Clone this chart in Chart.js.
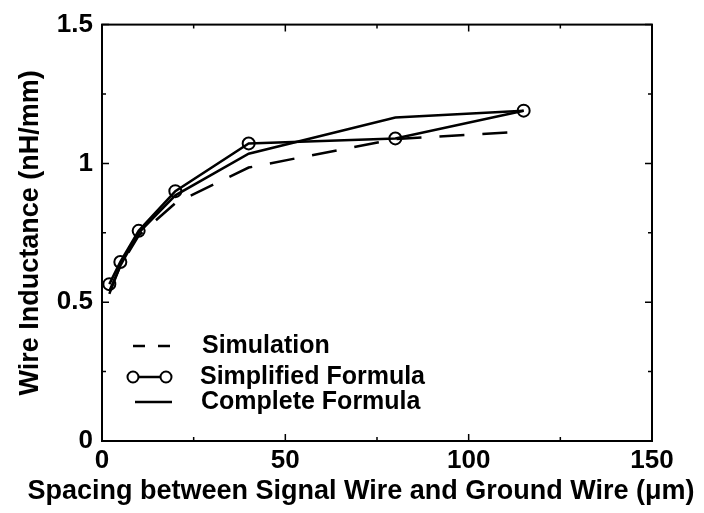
<!DOCTYPE html>
<html>
<head>
<meta charset="utf-8">
<script src="https://cdn.jsdelivr.net/npm/chart.js@4.4.1/dist/chart.umd.min.js"></script>
<style>
  html, body { margin: 0; padding: 0; background: #fff; }
  #wrap { width: 704px; height: 513px; }
</style>
</head>
<body>
<div id="wrap"><canvas id="inductanceChart"></canvas></div>
<script>
// spacing in um
var spacing = [2, 5, 10, 20, 40, 80, 115];
var simulation = [0.54, 0.63, 0.74, 0.857, 0.985, 1.088, 1.115];
var simplified = [0.565, 0.645, 0.757, 0.90, 1.072, 1.09, 1.19];
var complete = [0.53, 0.632, 0.75, 0.885, 1.035, 1.165, 1.19];
var seriesNames = ['Simulation', 'Simplified Formula', 'Complete Formula'];
var xTicks = [0, 50, 100, 150];
var yTicks = [0, 0.5, 1, 1.5];
var xTitle = 'Spacing between Signal Wire and Ground Wire (\u03bcm)';

var FONT = "'Liberation Sans', Arial, Helvetica, sans-serif";

function pts(ys) {
    return spacing.map(function(x, i) { return { x: x, y: ys[i] }; });
}

// box around plot + inward ticks (major and minor)
var frameTicks = {
    id: 'frameTicks',
    afterDatasetsDraw: function(chart) {
        var ctx = chart.ctx, a = chart.chartArea;
        var sx = chart.scales.x, sy = chart.scales.y;
        ctx.save();
        ctx.strokeStyle = '#000';
        ctx.lineWidth = 2;
        ctx.strokeRect(a.left, a.top, a.right - a.left, a.bottom - a.top);
        ctx.lineWidth = 1.5;
        ctx.beginPath();
        for (var v = 0; v <= 150; v += 25) {
            var len = (v % 50 === 0) ? 7 : 4;
            var px = sx.getPixelForValue(v);
            ctx.moveTo(px, a.bottom); ctx.lineTo(px, a.bottom - len);
            ctx.moveTo(px, a.top); ctx.lineTo(px, a.top + len);
        }
        for (var w = 0; w <= 1.5001; w += 0.25) {
            var l2 = (Math.abs(w * 2 - Math.round(w * 2)) < 1e-6) ? 7 : 4;
            var py = sy.getPixelForValue(w);
            ctx.moveTo(a.left, py); ctx.lineTo(a.left + l2, py);
            ctx.moveTo(a.right, py); ctx.lineTo(a.right - l2, py);
        }
        ctx.stroke();
        ctx.restore();
    }
};

// legend inside the plot (lower left) and the x title, which sits left of the axis centre
var innerLegend = {
    id: 'innerLegend',
    afterDraw: function(chart) {
        var ctx = chart.ctx;
        var rows = [346, 377, 402];
        ctx.save();
        ctx.strokeStyle = '#000';
        ctx.fillStyle = '#000';
        ctx.lineWidth = 2.5;
        ctx.font = 'bold 25px ' + FONT;
        ctx.textBaseline = 'middle';
        // dashed sample
        ctx.setLineDash([12, 13]);
        ctx.beginPath(); ctx.moveTo(133, rows[0]); ctx.lineTo(172, rows[0]); ctx.stroke();
        ctx.setLineDash([]);
        // line + circles sample
        ctx.beginPath(); ctx.moveTo(133, rows[1]); ctx.lineTo(166, rows[1]); ctx.stroke();
        ctx.lineWidth = 2;
        [133, 166].forEach(function(cx) {
            ctx.beginPath(); ctx.arc(cx, rows[1], 5.5, 0, Math.PI * 2);
            ctx.fillStyle = '#fff'; ctx.fill(); ctx.stroke();
        });
        ctx.lineWidth = 2.5;
        ctx.beginPath(); ctx.moveTo(135, rows[2]); ctx.lineTo(172, rows[2]); ctx.stroke();
        ctx.fillStyle = '#000';
        ctx.fillText(seriesNames[0], 202, rows[0]);
        ctx.fillText(seriesNames[1], 200, rows[1]);
        ctx.fillText(seriesNames[2], 201, rows[2]);

        ctx.font = 'bold 27px ' + FONT;
        ctx.textAlign = 'center';
        ctx.fillText(xTitle, 361, 492);
        ctx.restore();
    }
};

var ctx = document.getElementById('inductanceChart').getContext('2d');
var inductanceChart = new Chart(ctx, {
    type: 'line',
    data: {
        datasets: [{
            label: seriesNames[0],
            data: pts(simulation),
            borderColor: '#000',
            borderWidth: 2.5,
            borderDash: [25, 18],
            pointRadius: 0,
            fill: false
        }, {
            label: seriesNames[1],
            data: pts(simplified),
            borderColor: '#000',
            borderWidth: 2.5,
            pointRadius: 6,
            pointBorderWidth: 2,
            pointBackgroundColor: 'rgba(255,255,255,0)',
            pointBorderColor: '#000',
            fill: false
        }, {
            label: seriesNames[2],
            data: pts(complete),
            borderColor: '#000',
            borderWidth: 2.5,
            pointRadius: 0,
            fill: false
        }]
    },
    options: {
        responsive: true,
        maintainAspectRatio: false,
        animation: false,
        layout: { padding: { top: 20, right: 52, left: 0, bottom: 0 } },
        plugins: {
            legend: { display: false },
            tooltip: { enabled: false }
        },
        scales: {
            x: {
                type: 'linear',
                min: 0, max: 150,
                afterBuildTicks: function(s) { s.ticks = xTicks.map(function(v) { return { value: v }; }); },
                afterFit: function(s) { s.height = 72; },
                grid: { display: false, drawTicks: false },
                border: { display: false },
                ticks: {
                    color: '#000', padding: 4,
                    font: { family: FONT, size: 26, weight: 'bold' }
                },
                title: { display: false }
            },
            y: {
                min: 0, max: 1.5,
                afterBuildTicks: function(s) { s.ticks = yTicks.map(function(v) { return { value: v }; }); },
                afterFit: function(s) { s.width = 102; },
                grid: { display: false, drawTicks: false },
                border: { display: false },
                ticks: {
                    color: '#000', padding: 9,
                    font: { family: FONT, size: 26, weight: 'bold' },
                    callback: function(v) { return String(v); }
                },
                title: {
                    display: true,
                    text: 'Wire Inductance (nH/mm)',
                    color: '#000',
                    padding: { top: 14, bottom: 0 },
                    font: { family: FONT, size: 27, weight: 'bold' }
                }
            }
        }
    },
    plugins: [frameTicks, innerLegend]
});
</script>
</body>
</html>
